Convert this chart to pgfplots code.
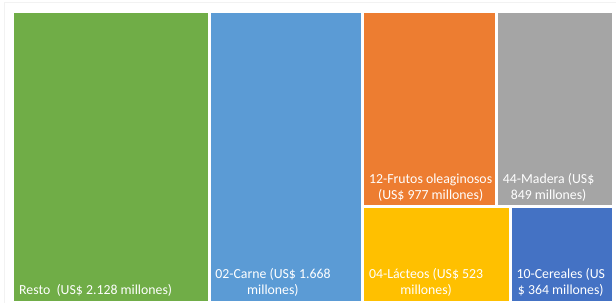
\documentclass[border=0pt]{standalone}
\usepackage{pgfplots}
\pgfplotsset{compat=1.18}
\usepackage{fontspec}
\setmainfont{Carlito}
\definecolor{cgreen}{HTML}{70AD47}
\definecolor{cblue}{HTML}{5B9BD5}
\definecolor{corange}{HTML}{ED7D31}
\definecolor{cgray}{HTML}{A5A5A5}
\definecolor{cyellow}{HTML}{FFC000}
\definecolor{cdblue}{HTML}{4472C4}
\tikzset{lbl/.style={text=white, font=\fontsize{13.8}{16.5}\selectfont, align=center, inner sep=0pt, anchor=south west, xshift=6pt, yshift=5pt}}
\begin{document}
\begin{tikzpicture}[x=1pt,y=1pt]
\path[use as bounding box] (0,0) rectangle (616,305);
\draw[black!5, line width=0.6pt] (4,2) -- (4,302.5) -- (616,302.5);
\begin{axis}[at={(13pt,3pt)}, anchor=south west, width=600pt, height=291pt,
  scale only axis, xmin=0, xmax=6509, ymin=0, ymax=1, y dir=reverse,
  hide axis, clip=false]
% Resto 2128
\addplot[draw=white, line width=3pt, fill=cgreen] coordinates {(0,0) (2128,0) (2128,1) (0,1)} -- cycle;
% 02-Carne 1668
\addplot[draw=white, line width=3pt, fill=cblue] coordinates {(2128,0) (3796,0) (3796,1) (2128,1)} -- cycle;
% 12-Frutos oleaginosos 977
\addplot[draw=white, line width=3pt, fill=corange] coordinates {(3796,0) (5247.6,0) (5247.6,0.6731) (3796,0.6731)} -- cycle;
% 44-Madera 849
\addplot[draw=white, line width=3pt, fill=cgray] coordinates {(5247.6,0) (6509,0) (6509,0.6731) (5247.6,0.6731)} -- cycle;
% 04-Lacteos 523
\addplot[draw=white, line width=3pt, fill=cyellow] coordinates {(3796,0.6731) (5395.7,0.6731) (5395.7,1) (3796,1)} -- cycle;
% 10-Cereales 364
\addplot[draw=white, line width=3pt, fill=cdblue] coordinates {(5395.7,0.6731) (6509,0.6731) (6509,1) (5395.7,1)} -- cycle;

\node[lbl] at (axis cs:0,1) {Resto\ \ (US\$ 2.128 millones)};
\node[lbl] at (axis cs:2128,1) {02-Carne (US\$ 1.668\\millones)};
\node[lbl] at (axis cs:3796,0.6731) {12-Frutos oleaginosos\\(US\$ 977 millones)};
\node[lbl] at (axis cs:5247.6,0.6731) {44-Madera (US\$\\849 millones)};
\node[lbl] at (axis cs:3796,1) {04-Lácteos (US\$ 523\\millones)};
\node[lbl] at (axis cs:5395.7,1) {10-Cereales (US\\\$ 364 millones)};
\end{axis}
\end{tikzpicture}
\end{document}
